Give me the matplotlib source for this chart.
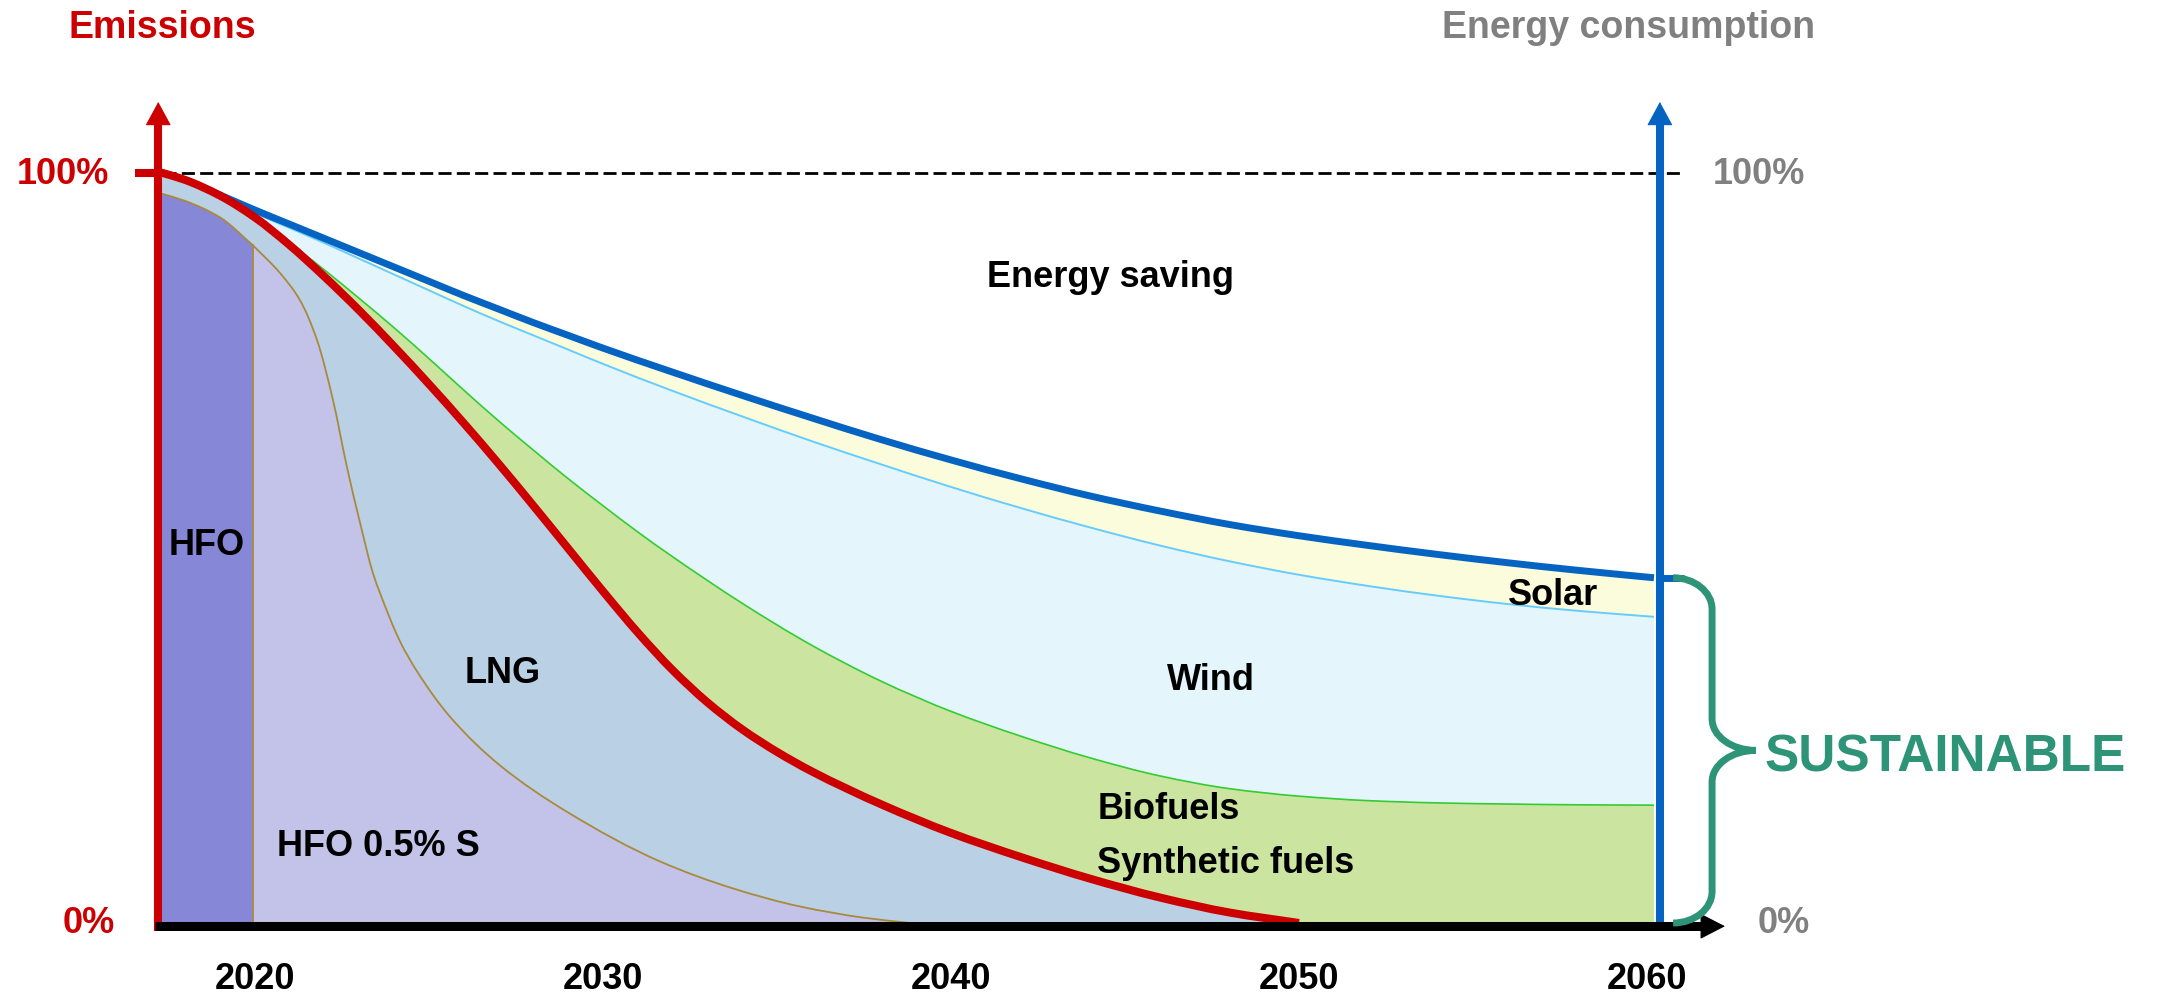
import numpy as np
import matplotlib
matplotlib.use("Agg")
import matplotlib.pyplot as plt
from matplotlib.patches import FancyArrowPatch, ArrowStyle, PathPatch
from matplotlib.path import Path

plt.rcParams['font.family'] = ['Liberation Sans', 'DejaVu Sans']
plt.rcParams['font.weight'] = 'bold'

# ---------------- data (years, % of 2017 level) ----------------
tick_years = [2020, 2030, 2040, 2050, 2060]

# total energy consumption (thick blue line)
blue_x = [2017.3, 2018, 2019, 2020, 2021, 2022, 2023, 2024, 2025, 2026, 2027, 2028, 2029, 2030,
          2032, 2034, 2036, 2038, 2040, 2042, 2044, 2046, 2048, 2050, 2052, 2054, 2056, 2058, 2060.2]
blue_y = [100, 99.0, 97.0, 95.0, 93.1, 91.2, 89.3, 87.4, 85.5, 83.6, 81.8, 80.0, 78.3, 76.6,
          73.4, 70.3, 67.3, 64.4, 61.7, 59.2, 56.9, 54.9, 53.1, 51.6, 50.3, 49.1, 48.0, 47.0, 46.0]

# top of wind (bottom of solar)
wind_x = blue_x
wind_y = [100, 99.0, 97.0, 94.6, 92.6, 90.6, 88.5, 86.4, 84.3, 82.2, 80.2, 78.3, 76.4, 74.5,
          70.9, 67.5, 64.2, 61.1, 58.1, 55.3, 52.7, 50.3, 48.2, 46.4, 44.9, 43.6, 42.5, 41.6, 40.8]

# top of biofuels / synthetic fuels
bio_x = [2017.3, 2018, 2019, 2020, 2021, 2022, 2023, 2024, 2025, 2026, 2027, 2028, 2029, 2030,
         2031, 2032, 2034, 2036, 2038, 2040, 2042, 2044, 2046, 2048, 2050, 2052, 2054, 2056, 2058, 2060.2]
bio_y = [100, 99.0, 96.9, 94.1, 90.6, 87.0, 83.2, 79.3, 75.2, 71.0, 66.9, 63.0, 59.2, 55.6,
         52.1, 48.8, 42.6, 37.0, 32.2, 28.2, 24.9, 22.0, 19.6, 17.9, 16.9, 16.3, 16.0, 15.85, 15.75, 15.7]

# emissions (red line) = top of LNG
emis_x = [2017.3, 2018, 2019, 2020, 2021, 2022, 2023, 2024, 2025, 2026, 2027, 2028, 2029, 2030,
          2031, 2032, 2033, 2034, 2035, 2036, 2038, 2040, 2042, 2044, 2046, 2048, 2050]
emis_y = [100, 99.0, 96.9, 94.0, 90.3, 86.1, 81.6, 76.8, 71.8, 66.6, 61.2, 55.6, 49.9, 44.2,
          38.7, 33.7, 29.4, 25.8, 22.8, 20.2, 15.8, 12.0, 8.8, 5.9, 3.4, 1.4, 0.0]

# top of HFO (until the 2020 switch) and of HFO 0.5% S (after it) - brown line
hfo_x = [2017.3, 2018, 2019, 2019.94]
hfo_y = [97.2, 96.2, 94.0, 90.3]
hfo05_x = [2019.94, 2020.72, 2021.29, 2021.78, 2022.24, 2022.64, 2023.02, 2023.39, 2023.59,
           2024.17, 2024.66, 2025.6, 2027.04, 2028.97, 2031.64, 2033.74, 2035.66, 2037.5, 2038.82]
hfo05_y = [90.3, 86.6, 83.0, 77.7, 69.7, 60.8, 53.3, 46.6, 44.0,
           37.5, 33.5, 27.5, 21.0, 14.8, 8.2, 4.6, 2.2, 0.7, 0.0]

# ---------------- style ----------------
C_RED = '#CC0000'
C_BLUE = '#0563C1'
C_HFO = '#8787D7'
C_HFO05 = '#C3C3EA'
C_LNG = '#BAD0E4'
C_BIO = '#CBE5A1'
C_WIND = '#E4F6FB'
C_SOLAR = '#FBFCDC'
C_GREENLINE = '#33CC33'
C_WINDLINE = '#66CCFF'
C_BROWN = '#A88A3C'
C_SUST = '#2E9478'
C_GREY = '#808080'

W, H = 2159, 997
fig = plt.figure(figsize=(W / 100, H / 100), dpi=100)
ax = fig.add_axes([0, 0, 1, 1])
# pixel mapping: year 2020 -> 255 px, 34.8 px / year ; 0 % -> 923 px, 7.505 px / %
ax.set_xlim(2020 - 255 / 34.8, 2020 + (W - 255) / 34.8)
ax.set_ylim(-(H - 923) / 7.505, 923 / 7.505)
ax.axis('off')


# ---------- smooth (monotone cubic Hermite drawn as Bezier paths) ----------
def tangents(x, y):
    h = np.diff(x)
    d = np.diff(y) / h
    n = len(x)
    m = np.zeros(n)
    m[0], m[-1] = d[0], d[-1]
    for i in range(1, n - 1):
        if d[i - 1] * d[i] <= 0:
            m[i] = 0.0
        else:
            w1 = 2 * h[i] + h[i - 1]
            w2 = h[i] + 2 * h[i - 1]
            m[i] = (w1 + w2) / (w1 / d[i - 1] + w2 / d[i])
    return m


def smooth(x, y, rev=False):
    x = np.asarray(x, float)
    y = np.asarray(y, float)
    m = tangents(x, y)
    segs = []
    for i in range(len(x) - 1):
        h = x[i + 1] - x[i]
        segs.append([(x[i], y[i]),
                     (x[i] + h / 3, y[i] + m[i] * h / 3),
                     (x[i + 1] - h / 3, y[i + 1] - m[i + 1] * h / 3),
                     (x[i + 1], y[i + 1])])
    if rev:
        segs = [s[::-1] for s in segs[::-1]]
    verts = [segs[0][0]]
    codes = [Path.LINETO]
    for s in segs:
        verts += s[1:]
        codes += [Path.CURVE4] * 3
    return verts, codes


def straight(points):
    return list(points), [Path.LINETO] * len(points)


def make_path(pieces, close=False):
    verts, codes = [], []
    for v, c in pieces:
        verts += v
        codes += c
    codes[0] = Path.MOVETO
    if close:
        verts.append(verts[0])
        codes.append(Path.CLOSEPOLY)
    return Path(verts, codes)


def region(pieces, color):
    ax.add_patch(PathPatch(make_path(pieces, close=True), facecolor=color,
                           edgecolor='none', lw=0, zorder=1))


def curve(pieces, color, lw, z):
    ax.add_patch(PathPatch(make_path(pieces), facecolor='none', edgecolor=color,
                           lw=lw, capstyle='butt', joinstyle='round', zorder=z))


# ---------------- stacked areas ----------------
# HFO
region([smooth(hfo_x, hfo_y), straight([(hfo_x[-1], 0), (hfo_x[0], 0)])], C_HFO)
# HFO 0.5% S
region([smooth(hfo05_x, hfo05_y), straight([(hfo05_x[0], 0)])], C_HFO05)
# LNG (between brown line and emissions line)
region([smooth(emis_x, emis_y), straight([(hfo05_x[-1], hfo05_y[-1])]),
        smooth(hfo05_x, hfo05_y, rev=True), smooth(hfo_x, hfo_y, rev=True)], C_LNG)
# Biofuels / synthetic fuels
region([smooth(bio_x, bio_y), straight([(bio_x[-1], 0), (emis_x[-1], emis_y[-1])]),
        smooth(emis_x, emis_y, rev=True)], C_BIO)
# Wind
region([smooth(wind_x, wind_y), smooth(bio_x, bio_y, rev=True)], C_WIND)
# Solar
region([smooth(blue_x, blue_y), smooth(wind_x, wind_y, rev=True)], C_SOLAR)

# thin boundary lines
curve([smooth(hfo_x, hfo_y)], C_BROWN, 1.3, 2)
curve([smooth(hfo05_x, hfo05_y)], C_BROWN, 1.3, 2)
ax.plot([hfo_x[-1], hfo_x[-1]], [0, hfo_y[-1]], color=C_BROWN, lw=1.3, zorder=2)
curve([smooth(bio_x, bio_y)], C_GREENLINE, 1.2, 2)
curve([smooth(wind_x, wind_y)], C_WINDLINE, 1.4, 2)

# 100 % reference dashed line
ax.plot([2017.36, 2060.95], [100, 100], color='black', lw=2.0,
        linestyle=(0, (4.7, 1.9)), zorder=2)

# main curves
curve([smooth(blue_x, blue_y)], C_BLUE, 5.0, 4)
curve([smooth(emis_x, emis_y)], C_RED, 5.8, 5)


# ---------------- axes with arrows ----------------
def arrow_axis(x0, y0, x1, y1, shaft_end, color, lw, hl, hw):
    ax.plot([x0, shaft_end[0]], [y0, shaft_end[1]], color=color, lw=lw,
            solid_capstyle='butt', zorder=6)
    st = ArrowStyle('-|>', head_length=hl, head_width=hw)
    p = FancyArrowPatch((shaft_end[0], shaft_end[1]), (x1, y1), arrowstyle=st,
                        mutation_scale=1, color=color, lw=0.8,
                        shrinkA=0, shrinkB=0, zorder=6)
    ax.add_patch(p)


X_RED = 2017.22
X_BLUE = 2060.37
Y_TIP = 109.4
Y_XAX = -0.43
# red (emissions) axis
arrow_axis(X_RED, -1.05, X_RED, Y_TIP, (X_RED, 107.3), C_RED, 5.8, 15.5, 8.4)
# red tick at 100 %
ax.plot([2016.55, X_RED], [100, 100], color=C_RED, lw=5.8, solid_capstyle='butt', zorder=6)
# blue (energy) axis
arrow_axis(X_BLUE, 0.05, X_BLUE, Y_TIP, (X_BLUE, 107.3), C_BLUE, 5.8, 15.5, 8.4)
# blue tick at 2060 level
ax.plot([X_BLUE, 2061.07], [blue_y[-1], blue_y[-1]], color=C_BLUE, lw=5.0,
        solid_capstyle='butt', zorder=6)
# x axis
arrow_axis(X_RED - 0.1, Y_XAX, 2062.24, Y_XAX, (2061.75, Y_XAX), 'black', 6.5, 16.3, 8.4)

# ---------------- brace ----------------
yt, yb = blue_y[-1], 0.0
ym = (yt + yb) / 2
x0b, x1b, x2b = 2060.75, 2061.87, 2063.13
r = 4.2
k = 0.552
verts = [
    (x0b, yt),
    (x0b + k * (x1b - x0b), yt), (x1b, yt - (1 - k) * r), (x1b, yt - r),
    (x1b, ym + r),
    (x1b, ym + (1 - k) * r), (x2b - k * (x2b - x1b), ym), (x2b, ym),
    (x2b - k * (x2b - x1b), ym), (x1b, ym - (1 - k) * r), (x1b, ym - r),
    (x1b, yb + r),
    (x1b, yb + (1 - k) * r), (x0b + k * (x1b - x0b), yb), (x0b, yb),
]
codes = [Path.MOVETO,
         Path.CURVE4, Path.CURVE4, Path.CURVE4,
         Path.LINETO,
         Path.CURVE4, Path.CURVE4, Path.CURVE4,
         Path.CURVE4, Path.CURVE4, Path.CURVE4,
         Path.LINETO,
         Path.CURVE4, Path.CURVE4, Path.CURVE4]
ax.add_patch(PathPatch(Path(verts, codes), facecolor='none', edgecolor=C_SUST,
                       lw=5.0, capstyle='butt', zorder=6))

# ---------------- texts ----------------
FS = 26


def label(x, y, s, ha='left', color='black', size=FS):
    ax.text(x, y, s, ha=ha, va='baseline', color=color, fontsize=size,
            fontweight='bold', zorder=7)


label(2014.63, 117.9, 'Emissions', color=C_RED, size=27)
label(2064.83, 117.9, 'Energy consumption', ha='right', color=C_GREY, size=27)
label(2015.80, 98.43, '100%', ha='right', color=C_RED)
label(2061.90, 98.43, '100%', color=C_GREY)
label(2015.98, -1.33, '0%', ha='right', color=C_RED)
label(2063.19, -1.33, '0%', color=C_GREY)
for yr in tick_years:
    label(yr, -8.79, str(yr), ha='center')

label(2017.53, 49.03, 'HFO')
label(2020.63, 8.93, 'HFO 0.5% S')
label(2026.03, 31.98, 'LNG')
label(2041.03, 84.74, 'Energy saving')
label(2046.21, 31.05, 'Wind')
label(2056.01, 42.37, 'Solar')
label(2044.20, 13.86, 'Biofuels')
label(2044.20, 6.66, 'Synthetic fuels')
label(2063.39, 20.12, 'SUSTAINABLE', color=C_SUST, size=37)

fig.savefig('out.png', dpi=100)
